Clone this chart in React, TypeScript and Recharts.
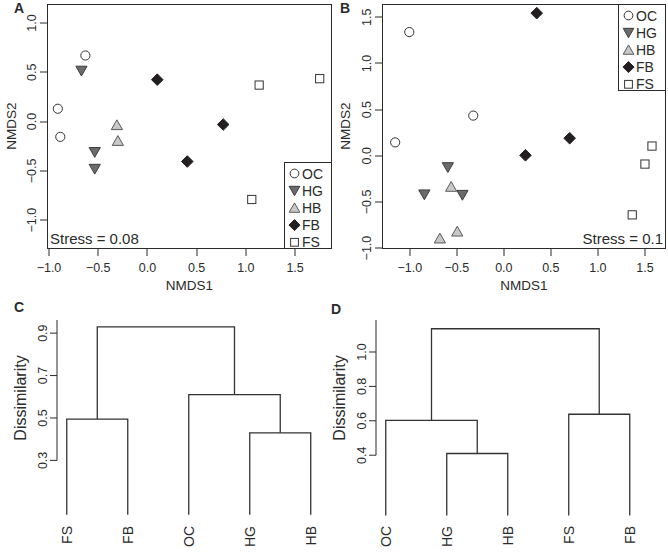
import React from 'react';
import { ScatterChart, Scatter, XAxis, YAxis, ReferenceLine } from 'recharts';

const FONT = '"Liberation Sans", Arial, Helvetica, sans-serif';
const INK = '#2b2b2b';

// ---------- data ----------
const groups = ['OC', 'HG', 'HB', 'FB', 'FS'];

// Panel A (NMDS)
const aOC = [{ x: -0.63, y: 0.67 }, { x: -0.91, y: 0.13 }, { x: -0.885, y: -0.155 }];
const aHG = [{ x: -0.67, y: 0.515 }, { x: -0.535, y: -0.31 }, { x: -0.535, y: -0.48 }];
const aHB = [{ x: -0.31, y: -0.035 }, { x: -0.3, y: -0.195 }];
const aFB = [{ x: 0.1, y: 0.425 }, { x: 0.77, y: -0.03 }, { x: 0.405, y: -0.405 }];
const aFS = [{ x: 1.135, y: 0.37 }, { x: 1.75, y: 0.435 }, { x: 1.06, y: -0.79 }];

// Panel B (NMDS)
const bOC = [{ x: -1.005, y: 1.34 }, { x: -1.155, y: 0.145 }, { x: -0.325, y: 0.435 }];
const bHG = [{ x: -0.595, y: -0.125 }, { x: -0.845, y: -0.42 }, { x: -0.44, y: -0.425 }];
const bHB = [{ x: -0.56, y: -0.335 }, { x: -0.68, y: -0.895 }, { x: -0.495, y: -0.82 }];
const bFB = [{ x: 0.35, y: 1.545 }, { x: 0.7, y: 0.19 }, { x: 0.23, y: 0.005 }];
const bFS = [{ x: 1.575, y: 0.105 }, { x: 1.5, y: -0.09 }, { x: 1.365, y: -0.64 }];

const nmdsXTicks = [-1, -0.5, 0, 0.5, 1, 1.5];
const aYTicks = [-1, -0.5, 0, 0.5, 1];
const bYTicks = [-1, -0.5, 0, 0.5, 1, 1.5];
const aXDomain = [-1.02, 1.875];
const aYDomain = [-1.292, 1.192];
const bXDomain = [-1.295, 1.724];
const bYDomain = [-1.01, 1.644];
const aStress = 'Stress = 0.08';
const bStress = 'Stress = 0.1';

// Panel C (dendrogram): leaves in display order, merges [a, b, height]
// negative = leaf position (1-based), positive = earlier merge index
const cLeaves = ['FS', 'FB', 'OC', 'HG', 'HB'];
const cMerges = [[-4, -5, 0.43], [-1, -2, 0.495], [-3, 1, 0.61], [2, 3, 0.93]];
const cLeafHeight = 0.044;
const cYTicks = [0.3, 0.5, 0.7, 0.9];
const cYDomain = [0, 0.962];

// Panel D (dendrogram)
const dLeaves = ['OC', 'HG', 'HB', 'FS', 'FB'];
const dMerges = [[-2, -3, 0.41], [-1, 1, 0.603], [-4, -5, 0.638], [2, 3, 1.135]];
const dLeafHeight = 0.05;
const dYTicks = [0.4, 0.6, 0.8, 1.0];
const dYDomain = [0, 1.186];

const leafTicks = [1, 2, 3, 4, 5];
const leafDomain = [0.84, 5.16];

// ---------- layout ----------
const CHART_W = 334;
const NMDS_H = 290;
const NMDS_MARGIN = { top: 4, right: 2, bottom: 1, left: 0 };
const NMDS_XAXIS_H = 40;
const TICK_LEN = 7;

// ---------- helpers ----------
const fmt = (v: number) => v.toFixed(1).replace('-', '\u2212');

const groupStyle: Record<string, { kind: string; fill: string; stroke: string }> = {
  OC: { kind: 'circle', fill: '#ffffff', stroke: '#333333' },
  HG: { kind: 'down', fill: '#6b6b6b', stroke: '#3c3c3c' },
  HB: { kind: 'up', fill: '#c8c8c8', stroke: '#5a5a5a' },
  FB: { kind: 'diamond', fill: '#231f20', stroke: '#231f20' },
  FS: { kind: 'square', fill: '#ffffff', stroke: '#333333' },
};

function marker(g: string, cx: number, cy: number, scale = 1) {
  const s = groupStyle[g];
  const common = { fill: s.fill, stroke: s.stroke, strokeWidth: 1 };
  const r = 4.6 * scale;
  switch (s.kind) {
    case 'circle':
      return <circle cx={cx} cy={cy} r={r} {...common} />;
    case 'down': {
      const w = 5.6 * scale, h = 4.6 * scale;
      return <polygon points={`${cx - w},${cy - h} ${cx + w},${cy - h} ${cx},${cy + h + 0.6}`} {...common} />;
    }
    case 'up': {
      const w = 5.6 * scale, h = 4.6 * scale;
      return <polygon points={`${cx - w},${cy + h} ${cx + w},${cy + h} ${cx},${cy - h - 0.6}`} {...common} />;
    }
    case 'diamond': {
      const d = 5.8 * scale;
      return <polygon points={`${cx},${cy - d} ${cx + d},${cy} ${cx},${cy + d} ${cx - d},${cy}`} {...common} />;
    }
    default: {
      const h = 4.1 * scale;
      return <rect x={cx - h} y={cy - h} width={2 * h} height={2 * h} {...common} />;
    }
  }
}

const XTickNum = (props: any) => {
  const { x, y, payload } = props;
  return (
    <text x={x} y={y} dy="0.71em" textAnchor="middle" fontSize={12.5} fontFamily={FONT} fill={INK}>
      {fmt(payload.value)}
    </text>
  );
};

const YTickNum = (props: any) => {
  const { x, y, payload } = props;
  return (
    <text x={x} y={y} dy="0.36em" textAnchor="middle" transform={`rotate(-90 ${x} ${y})`} fontSize={12.5} fontFamily={FONT} fill={INK}>
      {fmt(payload.value)}
    </text>
  );
};

const LegendBox = ({ left, top }: { left: number; top: number }) => {
  const w = 48, h = 87;
  return (
    <g transform={`translate(${left} ${top})`}>
      <rect x={0.5} y={0.5} width={w - 1} height={h - 1} fill="#ffffff" stroke={INK} strokeWidth={1} />
      {groups.map((g, i) => {
        const cy = 11.5 + i * 17.2;
        return (
          <g key={g}>
            {marker(g, 10.5, cy, 0.95)}
            <text x={18} y={cy} dy="0.36em" fontSize={14} fontFamily={FONT} fill={INK}>
              {g}
            </text>
          </g>
        );
      })}
    </g>
  );
};

// frame + tick marks for an NMDS panel, drawn as thin filled bars
const NmdsFrame = (props: { chartLeft: number; yAxisWidth: number; xDomain: number[]; yDomain: number[]; xTicks: number[]; yTicks: number[] }) => {
  const { chartLeft, yAxisWidth, xDomain, yDomain, xTicks, yTicks } = props;
  const left = chartLeft + NMDS_MARGIN.left + yAxisWidth;
  const right = chartLeft + CHART_W - NMDS_MARGIN.right;
  const top = NMDS_MARGIN.top;
  const bottom = NMDS_H - NMDS_MARGIN.bottom - NMDS_XAXIS_H;
  const sx = (v: number) => left + ((v - xDomain[0]) / (xDomain[1] - xDomain[0])) * (right - left);
  const sy = (v: number) => bottom - ((v - yDomain[0]) / (yDomain[1] - yDomain[0])) * (bottom - top);
  return (
    <g>
      <rect x={left} y={top} width={right - left} height={1} fill={INK} />
      <rect x={left} y={bottom - 1} width={right - left} height={1} fill={INK} />
      <rect x={left} y={top} width={1} height={bottom - top} fill={INK} />
      <rect x={right - 1} y={top} width={1} height={bottom - top} fill={INK} />
      {xTicks.map((v) => (
        <rect key={`x${v}`} x={Math.round(sx(v)) - 0.5} y={bottom} width={1} height={TICK_LEN} fill={INK} />
      ))}
      {yTicks.map((v) => (
        <rect key={`y${v}`} x={left - TICK_LEN} y={Math.round(sy(v)) - 0.5} width={TICK_LEN} height={1} fill={INK} />
      ))}
    </g>
  );
};

type Pt = { x: number; y: number };

function NmdsPanel(props: {
  series: Record<string, Pt[]>;
  xDomain: number[];
  yDomain: number[];
  yTicks: number[];
  yAxisWidth: number;
}) {
  const { series, xDomain, yDomain, yTicks, yAxisWidth } = props;
  return (
    <ScatterChart width={CHART_W} height={NMDS_H} margin={NMDS_MARGIN}>
      <XAxis
        type="number"
        dataKey="x"
        domain={xDomain}
        ticks={nmdsXTicks}
        interval={0}
        allowDataOverflow
        axisLine={false}
        tickLine={false}
        tickSize={TICK_LEN}
        tickMargin={7}
        height={NMDS_XAXIS_H}
        tick={(p: any) => <XTickNum {...p} />}
      />
      <YAxis
        type="number"
        dataKey="y"
        domain={yDomain}
        ticks={yTicks}
        interval={0}
        allowDataOverflow
        axisLine={false}
        tickLine={false}
        tickSize={TICK_LEN}
        tickMargin={8}
        width={yAxisWidth}
        tick={(p: any) => <YTickNum {...p} />}
      />
      {groups.map((g) => (
        <Scatter key={g} name={g} data={series[g]} isAnimationActive={false} shape={(p: any) => marker(g, p.cx, p.cy)} />
      ))}
    </ScatterChart>
  );
}

function dendroSegments(merges: number[][], leafHeight: number) {
  const nodes: { x: number; h: number }[] = [];
  const get = (id: number) => (id < 0 ? { x: -id, h: leafHeight } : nodes[id - 1]);
  return merges.map(([a, b, h]) => {
    const A = get(a);
    const B = get(b);
    nodes.push({ x: (A.x + B.x) / 2, h });
    return [
      { x: A.x, y: A.h },
      { x: A.x, y: h },
      { x: B.x, y: h },
      { x: B.x, y: B.h },
    ];
  });
}

function DendroPanel(props: {
  leaves: string[];
  merges: number[][];
  leafHeight: number;
  yTicks: number[];
  yDomain: number[];
  yAxisWidth: number;
  right: number;
}) {
  const { leaves, merges, leafHeight, yTicks, yDomain, yAxisWidth, right } = props;
  const segs = dendroSegments(merges, leafHeight);
  return (
    <ScatterChart width={CHART_W} height={274} margin={{ top: 40, right, bottom: 0, left: 0 }}>
      <XAxis
        type="number"
        dataKey="x"
        domain={leafDomain}
        ticks={leafTicks}
        interval={0}
        allowDataOverflow
        axisLine={false}
        tickLine={false}
        tickSize={0}
        tickMargin={2}
        height={30}
        tick={(p: any) => (
          <text
            x={p.x}
            y={p.y}
            dy="0.36em"
            textAnchor="end"
            transform={`rotate(-90 ${p.x} ${p.y})`}
            fontSize={14}
            fontFamily={FONT}
            fill={INK}
          >
            {leaves[p.payload.value - 1]}
          </text>
        )}
      />
      <YAxis
        type="number"
        dataKey="y"
        domain={yDomain}
        ticks={yTicks}
        interval={0}
        allowDataOverflow
        axisLine={false}
        tickLine={{ stroke: INK }}
        tickSize={TICK_LEN}
        tickMargin={7}
        width={yAxisWidth}
        tick={(p: any) => <YTickNum {...p} />}
      />
      <ReferenceLine
        segment={[
          { x: leafDomain[0], y: yTicks[0] },
          { x: leafDomain[0], y: yDomain[1] },
        ]}
        stroke={INK}
        strokeWidth={1}
        ifOverflow="visible"
      />
      {segs.map((s, i) => (
        <Scatter
          key={i}
          data={s}
          isAnimationActive={false}
          line={{ stroke: '#333333', strokeWidth: 1.3 }}
          lineType="joint"
          shape={() => <g />}
        />
      ))}
    </ScatterChart>
  );
}

const textStyle = { fontFamily: FONT, fill: INK } as const;

export default function App() {
  return (
    <div style={{ position: 'absolute', left: 0, top: 0, width: 668, height: 554, background: '#ffffff', overflow: 'hidden' }}>
      <div style={{ position: 'absolute', left: 0, top: 0 }}>
        <NmdsPanel series={{ OC: aOC, HG: aHG, HB: aHB, FB: aFB, FS: aFS }} xDomain={aXDomain} yDomain={aYDomain} yTicks={aYTicks} yAxisWidth={47} />
      </div>
      <div style={{ position: 'absolute', left: 334, top: 0 }}>
        <NmdsPanel series={{ OC: bOC, HG: bHG, HB: bHB, FB: bFB, FS: bFS }} xDomain={bXDomain} yDomain={bYDomain} yTicks={bYTicks} yAxisWidth={48} />
      </div>
      <div style={{ position: 'absolute', left: 0, top: 280 }}>
        <DendroPanel leaves={cLeaves} merges={cMerges} leafHeight={cLeafHeight} yTicks={cYTicks} yDomain={cYDomain} yAxisWidth={57} right={13.5} />
      </div>
      <div style={{ position: 'absolute', left: 334, top: 280 }}>
        <DendroPanel leaves={dLeaves} merges={dMerges} leafHeight={dLeafHeight} yTicks={dYTicks} yDomain={dYDomain} yAxisWidth={42} right={28.5} />
      </div>
      <svg width={668} height={554} style={{ position: 'absolute', left: 0, top: 0, pointerEvents: 'none' }}>
        <NmdsFrame chartLeft={0} yAxisWidth={47} xDomain={aXDomain} yDomain={aYDomain} xTicks={nmdsXTicks} yTicks={aYTicks} />
        <NmdsFrame chartLeft={334} yAxisWidth={48} xDomain={bXDomain} yDomain={bYDomain} xTicks={nmdsXTicks} yTicks={bYTicks} />

        <LegendBox left={284} top={162} />
        <LegendBox left={618} top={4} />

        <text x={14} y={13} fontSize={14} fontWeight="bold" {...textStyle}>A</text>
        <text x={340} y={13} fontSize={14} fontWeight="bold" {...textStyle}>B</text>
        <text x={14} y={312} fontSize={14} fontWeight="bold" {...textStyle}>C</text>
        <text x={331} y={314} fontSize={14} fontWeight="bold" {...textStyle}>D</text>

        <text x={11} y={126} dy="0.36em" textAnchor="middle" transform="rotate(-90 11 126)" fontSize={13.5} {...textStyle}>NMDS2</text>
        <text x={189.5} y={285} dy="0.36em" textAnchor="middle" fontSize={13.5} {...textStyle}>NMDS1</text>
        <text x={345} y={126} dy="0.36em" textAnchor="middle" transform="rotate(-90 345 126)" fontSize={13.5} {...textStyle}>NMDS2</text>
        <text x={524} y={285} dy="0.36em" textAnchor="middle" fontSize={13.5} {...textStyle}>NMDS1</text>

        <text x={50} y={239} dy="0.36em" fontSize={15} {...textStyle}>{aStress}</text>
        <text x={663} y={239} dy="0.36em" textAnchor="end" fontSize={15} {...textStyle}>{bStress}</text>

        <text x={20} y={398} dy="0.36em" textAnchor="middle" transform="rotate(-90 20 398)" fontSize={16} {...textStyle}>Dissimilarity</text>
        <text x={339} y={398} dy="0.36em" textAnchor="middle" transform="rotate(-90 339 398)" fontSize={16} {...textStyle}>Dissimilarity</text>
      </svg>
    </div>
  );
}
